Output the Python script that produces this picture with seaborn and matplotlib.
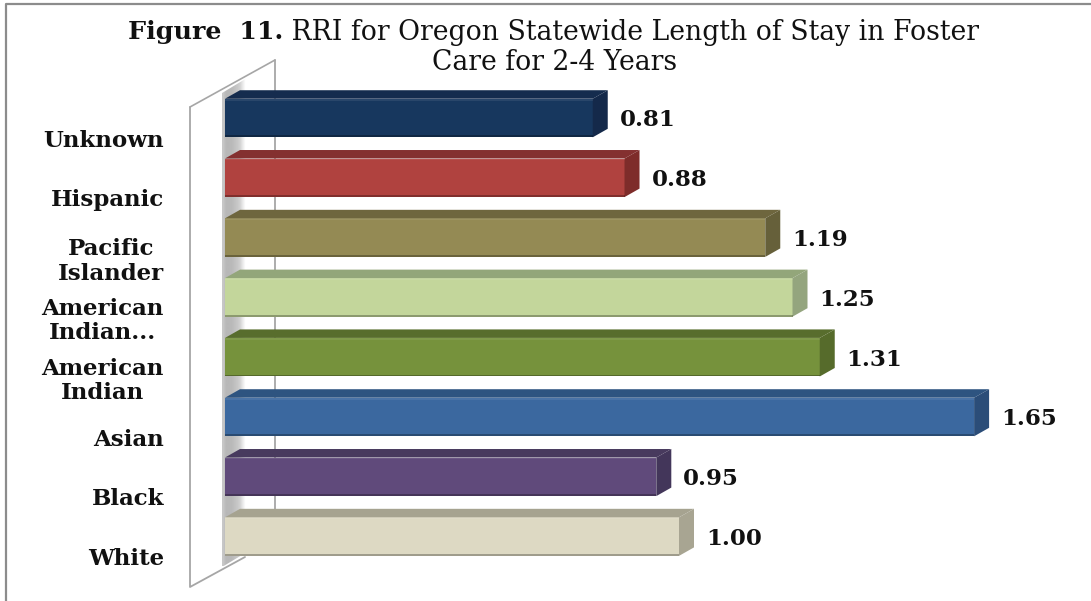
import numpy as np
import pandas as pd
import matplotlib
matplotlib.use("Agg")
import matplotlib.pyplot as plt
from matplotlib.patches import Polygon, Rectangle
import seaborn as sns

# ===== data =====
categories = ["Unknown", "Hispanic", "Pacific\nIslander", "American\nIndian...",
              "American\nIndian", "Asian", "Black", "White"]
values = [0.81, 0.88, 1.19, 1.25, 1.31, 1.65, 0.95, 1.00]
value_labels = ["0.81", "0.88", "1.19", "1.25", "1.31", "1.65", "0.95", "1.00"]
front_colors = ["#17375E", "#B0423F", "#948A54", "#C3D69B", "#76923C", "#3B689F", "#604A7B", "#DDD9C3"]
top_colors = ["#152C4E", "#843030", "#6E663E", "#93A67A", "#586D2D", "#2E5480", "#483A5E", "#A6A390"]
side_colors = ["#14294A", "#7E2C2A", "#66603A", "#94A57E", "#566B2B", "#2B4D78", "#43365A", "#A8A592"]

W, H = 1091, 601
FONT = "DejaVu Serif"

sns.set_theme(style="white")
plt.rcParams["font.family"] = FONT

fig = plt.figure(figsize=(W / 100, H / 100), dpi=100, facecolor="white")

# ===== wall behind the bars, pixel coordinates =====
bg = fig.add_axes([0, 0, 1, 1], zorder=0)
bg.axis("off")
wall_color = "#A6A6A6"
bg.plot([275, 275], [60, 520], color=wall_color, lw=1.3)
bg.plot([190, 275], [107, 60], color=wall_color, lw=1.2)
bg.plot([190, 190, 245], [107, 587, 557], color=wall_color, lw=1.3)

grad = np.array([[0.78, 0.72, 0.72, 0.73, 0.75, 0.78, 0.82, 0.92, 1.0]])
shadow = bg.imshow(grad, extent=[222, 247, 566, 78], cmap="gray", vmin=0, vmax=1,
                   aspect="auto", interpolation="bilinear", zorder=1)
shadow.set_clip_path(Polygon([[222, 93], [247, 78], [247, 552], [222, 567]],
                             transform=bg.transData))
bg.set_xlim(0, W)
bg.set_ylim(H, 0)

# frame of the picture
bg.plot([6, 6, W], [H, 3.5, 3.5], color="#8C8C8C", lw=1.6)

# ===== bars =====
x_px = 225
px_per_unit = 454
row_px = 59.8
first_row_px = 118
ax = fig.add_axes([x_px / W, 0, 1 - x_px / W, 1], zorder=2)
ax.patch.set_alpha(0)

df = pd.DataFrame({"group": categories, "rri": values})
sns.barplot(data=df, y="group", x="rri", hue="group", palette=front_colors, order=categories,
            hue_order=categories, dodge=False, legend=False, saturation=1, width=0.645,
            linewidth=0, ax=ax)

ax.set_xlim(0, (W - x_px) / px_per_unit)
ax.set_ylim((H - first_row_px) / row_px, -first_row_px / row_px)
dx = 15 / px_per_unit
dy = 8.5 / row_px
half = 0.645 / 2

for i, v in enumerate(values):
    # top and side faces
    ax.add_patch(Polygon([[0, i - half], [dx, i - half - dy], [v + dx, i - half - dy], [v, i - half]],
                         facecolor=top_colors[i], edgecolor="none", zorder=3))
    ax.add_patch(Polygon([[v, i - half], [v + dx, i - half - dy], [v + dx, i + half - dy], [v, i + half]],
                         facecolor=side_colors[i], edgecolor="none", zorder=3))
    # bevel lines on the front
    ax.add_patch(Rectangle((0, i - half), v, 0.03, facecolor="white", alpha=0.08, edgecolor="none", zorder=4))
    ax.add_patch(Rectangle((0, i + half - 0.03), v, 0.03, facecolor="black", alpha=0.28, edgecolor="none", zorder=4))
    ax.text(v + 27 / px_per_unit, i + 0.04, value_labels[i], ha="left", va="center",
            fontsize=16.5, fontweight="bold", color="#111111", zorder=5)

ax.set_xlabel("")
ax.set_ylabel("")
ax.set_xticks([])
ax.set_yticks(np.arange(len(categories)) + 0.335)
ax.set_yticklabels(categories, ha="right", multialignment="center", fontsize=16.5,
                   fontweight="bold", color="#111111", linespacing=1.15)
ax.tick_params(axis="y", length=0, pad=44)
sns.despine(ax=ax, left=True, bottom=True)

# ===== title =====
t1 = fig.text(128 / W, 1 - 32 / H, "Figure  11.", ha="left", va="center",
              fontsize=18.3, fontweight="bold", color="#111111")
ax.annotate(" RRI for Oregon Statewide Length of Stay in Foster", xy=(1, 0.5), xycoords=t1,
            ha="left", va="center", fontsize=19.2, color="#111111", annotation_clip=False)
fig.text(555 / W, 1 - 62 / H, "Care for 2-4 Years", ha="center", va="center",
         fontsize=19.2, color="#111111")

fig.savefig("out.png", dpi=100)
